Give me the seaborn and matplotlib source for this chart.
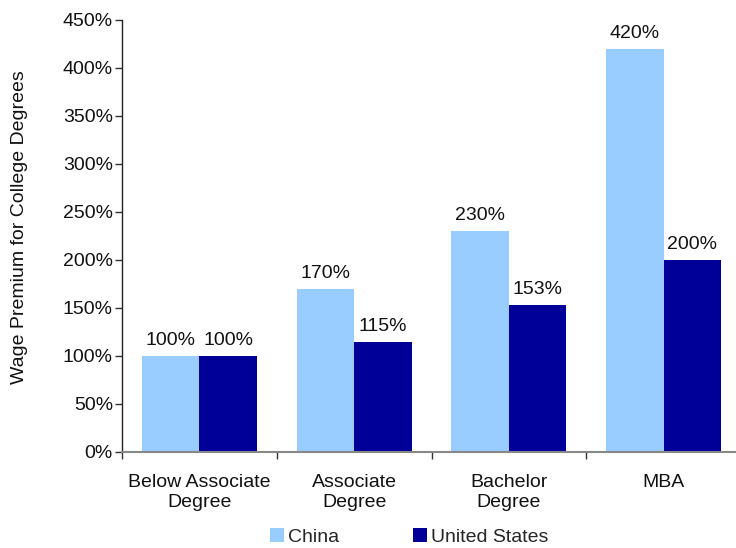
import matplotlib
matplotlib.use("Agg")
import matplotlib.pyplot as plt
import seaborn as sns
import pandas as pd
from matplotlib.patches import Patch

categories = ["Below Associate\nDegree", "Associate\nDegree", "Bachelor\nDegree", "MBA"]
china = [100, 170, 230, 420]
united_states = [100, 115, 153, 200]
series_names = ["China", "United States"]
y_ticks = [0, 50, 100, 150, 200, 250, 300, 350, 400, 450]

colors = {"China": "#99CCFF", "United States": "#000099"}
FS = 14

df = pd.DataFrame({
    "Degree": categories * 2,
    "Country": [series_names[0]] * 4 + [series_names[1]] * 4,
    "Premium": china + united_states,
})

sns.set_theme(style="white")
plt.rcParams["font.family"] = ["Liberation Sans", "DejaVu Sans"]

fig = plt.figure(figsize=(7.36, 5.48), dpi=100)
ax = fig.add_axes([122 / 736, 96 / 548, 619 / 736, 432 / 548])

sns.barplot(data=df, x="Degree", y="Premium", hue="Country", order=categories,
            hue_order=series_names, palette=colors, width=0.744, saturation=1,
            gap=0, legend=False, ax=ax, edgecolor="none", linewidth=0)

for cont in ax.containers:
    ax.bar_label(cont, labels=[f"{v:.0f}%" for v in cont.datavalues],
                 padding=5, fontsize=FS, color="#111111")

ax.set_ylim(0, 450)
ax.set_xlim(-0.5, 3.5)
ax.set_yticks(y_ticks)
ax.set_yticklabels([f"{t}%" for t in y_ticks], fontsize=FS, color="#111111")
ax.set_xticks([-0.5, 0.5, 1.5, 2.5, 3.5])
ax.set_xticklabels([])
for i, c in enumerate(categories):
    ax.text(i, -23, c, ha="center", va="top", fontsize=FS, color="#111111",
            linespacing=1.2, transform=ax.transData)

ax.tick_params(axis="y", which="major", direction="out", length=5, width=1,
               color="#333333", left=True, pad=1.5)
ax.tick_params(axis="x", which="major", direction="out", length=5, width=1,
               color="#333333", bottom=True)

ax.set_xlabel("")
ax.set_ylabel("Wage Premium for College Degrees", fontsize=FS, color="#111111")
ax.yaxis.set_label_coords(-0.152, 0.52)

for side in ["top", "right"]:
    ax.spines[side].set_visible(False)
ax.spines["left"].set_color("#222222")
ax.spines["left"].set_linewidth(1.0)
ax.spines["bottom"].set_color("#888888")
ax.spines["bottom"].set_linewidth(1.5)

handles = [Patch(facecolor=colors[s], edgecolor="none") for s in series_names]
fig.legend(handles, series_names, loc="center", bbox_to_anchor=(409 / 736, 1 - 537 / 548),
           ncol=2, frameon=False, fontsize=FS, handlelength=0.72, handleheight=0.72,
           handletextpad=0.2, columnspacing=3.8, borderpad=0, borderaxespad=0)

fig.savefig("out.png", dpi=100)
